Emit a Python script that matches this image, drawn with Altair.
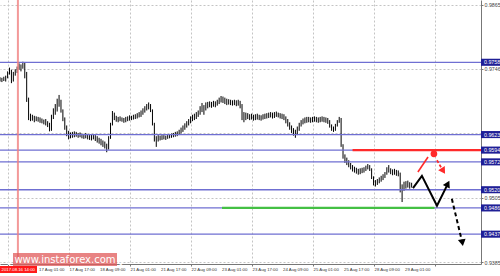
import altair as alt
import pandas as pd

# ---- hourly bars (bar index, low, high) ----
bar_lows = [
    0.9722, 0.9721, 0.9723, 0.9722, 0.9728, 0.9735, 0.9719, 0.9722, 0.9733, 0.9738,
    0.9744, 0.9741, 0.9746, 0.9728, 0.9684, 0.9650, 0.9648, 0.9649, 0.9646, 0.9648,
    0.9647, 0.9645, 0.9644, 0.9642, 0.9640, 0.9637, 0.9629, 0.9630, 0.9652, 0.9660,
    0.9666, 0.9675, 0.9664, 0.9648, 0.9632, 0.9620, 0.9614, 0.9616, 0.9617, 0.9618,
    0.9619, 0.9617, 0.9618, 0.9616, 0.9615, 0.9616, 0.9614, 0.9613, 0.9612, 0.9614,
    0.9611, 0.9608, 0.9606, 0.9603, 0.9600, 0.9597, 0.9590, 0.9595, 0.9615, 0.9640,
    0.9650, 0.9647, 0.9646, 0.9648, 0.9647, 0.9645, 0.9646, 0.9648, 0.9649, 0.9650,
    0.9651, 0.9652, 0.9653, 0.9655, 0.9656, 0.9660, 0.9664, 0.9668, 0.9670, 0.9665,
    0.9640, 0.9610, 0.9600, 0.9610, 0.9612, 0.9613, 0.9614, 0.9613, 0.9615, 0.9616,
    0.9617, 0.9618, 0.9619, 0.9620, 0.9622, 0.9625, 0.9628, 0.9632, 0.9636, 0.9640,
    0.9644, 0.9648, 0.9650, 0.9652, 0.9656, 0.9660, 0.9665, 0.9660, 0.9668, 0.9672,
    0.9674, 0.9673, 0.9675, 0.9674, 0.9677, 0.9680, 0.9683, 0.9682, 0.9680, 0.9678,
    0.9679, 0.9678, 0.9677, 0.9678, 0.9676, 0.9677, 0.9672, 0.9650, 0.9646, 0.9650,
    0.9652, 0.9650, 0.9651, 0.9649, 0.9650, 0.9651, 0.9650, 0.9649, 0.9651, 0.9652,
    0.9653, 0.9654, 0.9655, 0.9653, 0.9654, 0.9656, 0.9655, 0.9653, 0.9652, 0.9650,
    0.9644, 0.9638, 0.9632, 0.9626, 0.9621, 0.9617, 0.9622, 0.9630, 0.9638, 0.9642,
    0.9644, 0.9645, 0.9646, 0.9645, 0.9646, 0.9647, 0.9646, 0.9645, 0.9646, 0.9647,
    0.9646, 0.9645, 0.9643, 0.9636, 0.9630, 0.9628, 0.9630, 0.9638, 0.9645, 0.9600,
    0.9578, 0.9570, 0.9566, 0.9562, 0.9558, 0.9554, 0.9552, 0.9550, 0.9548, 0.9549,
    0.9551, 0.9552, 0.9555, 0.9558, 0.9555, 0.9540, 0.9528, 0.9526, 0.9529, 0.9532,
    0.9535, 0.9538, 0.9542, 0.9548, 0.9552, 0.9549, 0.9547, 0.9548, 0.9546, 0.9545,
    0.9515, 0.9497, 0.9518, 0.9522, 0.9524, 0.9522, 0.9524,
]
bar_highs = [
    0.9730, 0.9729, 0.9731, 0.9733, 0.9741, 0.9748, 0.9744, 0.9740, 0.9745, 0.9750,
    0.9756, 0.9754, 0.9759, 0.9757, 0.9740, 0.9692, 0.9662, 0.9660, 0.9658, 0.9657,
    0.9656, 0.9655, 0.9653, 0.9651, 0.9652, 0.9648, 0.9645, 0.9660, 0.9672, 0.9680,
    0.9690, 0.9697, 0.9688, 0.9670, 0.9655, 0.9640, 0.9630, 0.9627, 0.9628, 0.9629,
    0.9628, 0.9626, 0.9627, 0.9625, 0.9624, 0.9626, 0.9623, 0.9622, 0.9624, 0.9623,
    0.9622, 0.9620, 0.9617, 0.9615, 0.9612, 0.9610, 0.9606, 0.9620, 0.9645, 0.9667,
    0.9664, 0.9658, 0.9656, 0.9657, 0.9655, 0.9654, 0.9656, 0.9657, 0.9659, 0.9658,
    0.9660, 0.9661, 0.9663, 0.9665, 0.9668, 0.9672, 0.9676, 0.9680, 0.9683, 0.9680,
    0.9670, 0.9645, 0.9620, 0.9622, 0.9621, 0.9622, 0.9622, 0.9621, 0.9623, 0.9624,
    0.9625, 0.9626, 0.9628, 0.9629, 0.9632, 0.9636, 0.9640, 0.9644, 0.9648, 0.9652,
    0.9657, 0.9660, 0.9662, 0.9665, 0.9668, 0.9676, 0.9682, 0.9678, 0.9683, 0.9684,
    0.9685, 0.9684, 0.9686, 0.9685, 0.9688, 0.9692, 0.9695, 0.9694, 0.9692, 0.9690,
    0.9689, 0.9688, 0.9687, 0.9688, 0.9687, 0.9688, 0.9686, 0.9680, 0.9665, 0.9664,
    0.9663, 0.9661, 0.9662, 0.9660, 0.9661, 0.9662, 0.9660, 0.9659, 0.9661, 0.9662,
    0.9663, 0.9664, 0.9665, 0.9664, 0.9665, 0.9666, 0.9664, 0.9663, 0.9662, 0.9661,
    0.9657, 0.9652, 0.9646, 0.9640, 0.9635, 0.9632, 0.9638, 0.9645, 0.9650, 0.9653,
    0.9655, 0.9656, 0.9656, 0.9655, 0.9656, 0.9657, 0.9656, 0.9655, 0.9656, 0.9657,
    0.9656, 0.9655, 0.9654, 0.9650, 0.9642, 0.9638, 0.9643, 0.9650, 0.9656, 0.9654,
    0.9605, 0.9586, 0.9580, 0.9575, 0.9570, 0.9566, 0.9563, 0.9561, 0.9559, 0.9560,
    0.9561, 0.9562, 0.9565, 0.9568, 0.9566, 0.9560, 0.9545, 0.9538, 0.9540, 0.9543,
    0.9546, 0.9549, 0.9553, 0.9562, 0.9566, 0.9560, 0.9558, 0.9559, 0.9557, 0.9556,
    0.9552, 0.9530, 0.9535, 0.9536, 0.9537, 0.9534, 0.9533,
]

# ---- horizontal levels ----
level_prices = [0.9758, 0.9623, 0.9594, 0.9572, 0.9520, 0.9486, 0.9437]
level_labels = ["0.9758", "0.9623", "0.9594", "0.9572", "0.9520", "0.9486", "0.9437"]
resistance_price = 0.9594
resistance_from_bar = 185
support_price = 0.9486
support_from_bar, support_to_bar = 116.5, 228
cursor_bar = 9.4

# ---- scenario arrows (bar index, price) ----
main_path_bars = [216.7, 221.4, 229.3, 235.0]
main_path_prices = [0.9523, 0.9546, 0.9490, 0.9531]
alt_path_bars = [237.1, 242.6]
alt_path_prices = [0.9503, 0.9421]
red_up_bars = [219.3, 224.6]
red_up_prices = [0.9553, 0.9581]
red_dot_bar, red_dot_price = 227.7, 0.9587
red_down_bars = [229.3, 232.6]
red_down_prices = [0.9575, 0.9555]

# ---- axes ----
y_ticks = [0.9865, 0.9835, 0.9806, 0.9775, 0.9746, 0.9715, 0.9685, 0.9655, 0.9625,
           0.9594, 0.9566, 0.9535, 0.9505, 0.9475, 0.9445, 0.9415, 0.9385]
x_grid_bars = list(range(4, 253, 8))
x_label_bars = [20, 36, 52, 68, 84, 100, 116, 132, 148, 164, 180, 196, 212]
x_label_texts = ["17 Aug 01:00", "17 Aug 17:00", "18 Aug 09:00", "21 Aug 01:00",
                 "21 Aug 17:00", "22 Aug 09:00", "23 Aug 01:00", "23 Aug 17:00",
                 "24 Aug 09:00", "25 Aug 01:00", "25 Aug 17:00", "28 Aug 09:00",
                 "29 Aug 01:00"]
cursor_text = "2017.08.16 14:00"
watermark_text = "[ www.instaforex.com ]"

X_DOMAIN = [0, 252.4]
Y_DOMAIN = [0.93813, 0.98743]
W, H = 481, 264
FONT = "Liberation Sans"
FS = 5.3
FSX = 4.3

xs = alt.Scale(domain=X_DOMAIN, nice=False, zero=False)
ys = alt.Scale(domain=Y_DOMAIN, nice=False, zero=False)

bars = pd.DataFrame({"bar": list(range(len(bar_lows))), "low": bar_lows, "high": bar_highs})

candles = alt.Chart(bars).mark_rule(color="black", strokeWidth=1.0).encode(
    x=alt.X("bar:Q", scale=xs, axis=alt.Axis(
        values=x_grid_bars, labels=False, title=None, grid=True,
        gridDash=[2, 2], gridColor="#c4c4c4", gridWidth=1, tickSize=2,
        tickColor="#777", domainColor="#777")),
    y=alt.Y("low:Q", scale=ys, axis=alt.Axis(
        orient="right", values=y_ticks, format=".4f", title=None, grid=True,
        gridDash=[2, 2], gridColor="#c4c4c4", gridWidth=1, tickSize=2,
        tickColor="#777", labelPadding=1, labelFontSize=FS, labelColor="#444",
        labelFont=FONT, domainColor="#777", labelOverlap=False, labelFlush=False)),
    y2="high:Q",
)

xlab_df = pd.DataFrame({"b": x_label_bars, "t": x_label_texts})
x_labels = alt.Chart(xlab_df).mark_text(
    align="left", baseline="middle", fontSize=FSX, font=FONT, color="#333", dx=1
).encode(x=alt.X("b:Q", scale=xs), y=alt.value(269.5), text="t:N")

levels = pd.DataFrame({"p": level_prices, "lab": level_labels})
hlines = alt.Chart(levels).mark_rule(color="#6f6fd2", strokeWidth=1.3).encode(
    y=alt.Y("p:Q", scale=ys))

cursor = alt.Chart(pd.DataFrame({"b": [cursor_bar]})).mark_rule(
    color="#f08080", strokeWidth=2, opacity=0.8).encode(x=alt.X("b:Q", scale=xs))

seg = pd.DataFrame({
    "b1": [resistance_from_bar, support_from_bar],
    "b2": [X_DOMAIN[1], support_to_bar],
    "p": [resistance_price, support_price],
    "kind": ["res", "sup"],
})
segs = alt.Chart(seg).mark_rule(strokeWidth=2.2).encode(
    x=alt.X("b1:Q", scale=xs), x2="b2:Q", y=alt.Y("p:Q", scale=ys),
    color=alt.Color("kind:N", scale=alt.Scale(domain=["res", "sup"], range=["#ff2a2a", "#44c044"]), legend=None),
)

def path(bx, py, color, dash=None, width=2):
    df = pd.DataFrame({"b": bx, "p": py, "o": list(range(len(bx)))})
    kw = dict(color=color, strokeWidth=width)
    if dash:
        kw["strokeDash"] = dash
    return alt.Chart(df).mark_line(**kw).encode(
        x=alt.X("b:Q", scale=xs), y=alt.Y("p:Q", scale=ys), order="o:Q")

main_line = path(main_path_bars, main_path_prices, "black", width=2)
alt_line = path(alt_path_bars, alt_path_prices, "black", dash=[4, 3], width=2)
red_up = path(red_up_bars, red_up_prices, "#ff2a2a", width=1.6)
red_down = path(red_down_bars, red_down_prices, "#ff2a2a", dash=[3, 2], width=1.8)

heads = pd.DataFrame({
    "b": [main_path_bars[-1], alt_path_bars[-1], red_down_bars[-1]],
    "p": [main_path_prices[-1], alt_path_prices[-1], red_down_prices[-1]],
    "ang": [27, 170, 148],
    "c": ["black", "black", "#ff2a2a"],
})
arrowheads = alt.Chart(heads).mark_point(shape="triangle-up", filled=True, size=60, opacity=1).encode(
    x=alt.X("b:Q", scale=xs), y=alt.Y("p:Q", scale=ys),
    angle=alt.Angle("ang:Q", scale=None), color=alt.Color("c:N", scale=None))

red_dot = alt.Chart(pd.DataFrame({"b": [red_dot_bar], "p": [red_dot_price]})).mark_circle(
    color="#ff2a2a", size=45, opacity=1).encode(x=alt.X("b:Q", scale=xs), y=alt.Y("p:Q", scale=ys))

boxes = alt.Chart(levels).transform_calculate(
    top="datum.p + 0.00066", bot="datum.p - 0.00066"
).mark_rect(color="#1f1f96").encode(
    x=alt.value(W), x2=alt.value(500), y=alt.Y("top:Q", scale=ys), y2="bot:Q")
box_text = alt.Chart(levels).mark_text(
    align="left", baseline="middle", color="white", fontSize=FS, font=FONT
).encode(x=alt.value(W + 3), y=alt.Y("p:Q", scale=ys), text="lab:N")

wm_box = alt.Chart(pd.DataFrame({"a": [0]})).mark_rect(color="#e05a5a", opacity=0.75).encode(
    x=alt.value(13), x2=alt.value(117), y=alt.value(253), y2=alt.value(266))
wm_text = alt.Chart(pd.DataFrame({"t": [watermark_text]})).mark_text(
    color="white", fontSize=10, font="DejaVu Sans", align="center", baseline="middle").encode(
    x=alt.value(65), y=alt.value(259.5), text="t:N")
cur_box = alt.Chart(pd.DataFrame({"a": [0]})).mark_rect(color="#ff1a1a").encode(
    x=alt.value(0), x2=alt.value(37), y=alt.value(266), y2=alt.value(273))
cur_text = alt.Chart(pd.DataFrame({"t": [cursor_text]})).mark_text(
    color="white", fontSize=FSX, font=FONT, align="left", baseline="middle").encode(
    x=alt.value(1.5), y=alt.value(269.5), text="t:N")

chart = alt.layer(
    candles, x_labels, hlines, cursor, segs, main_line, alt_line, red_up, red_down,
    arrowheads, red_dot, boxes, box_text, wm_box, wm_text, cur_box, cur_text,
).properties(
    width=W, height=H,
    autosize=alt.AutoSizeParams(type="none"),
    padding={"left": 0, "top": 0, "right": 19, "bottom": 12},
    background="white",
).configure_view(stroke=None)

chart.save("out.html", embed_options={"renderer": "svg", "actions": False})
